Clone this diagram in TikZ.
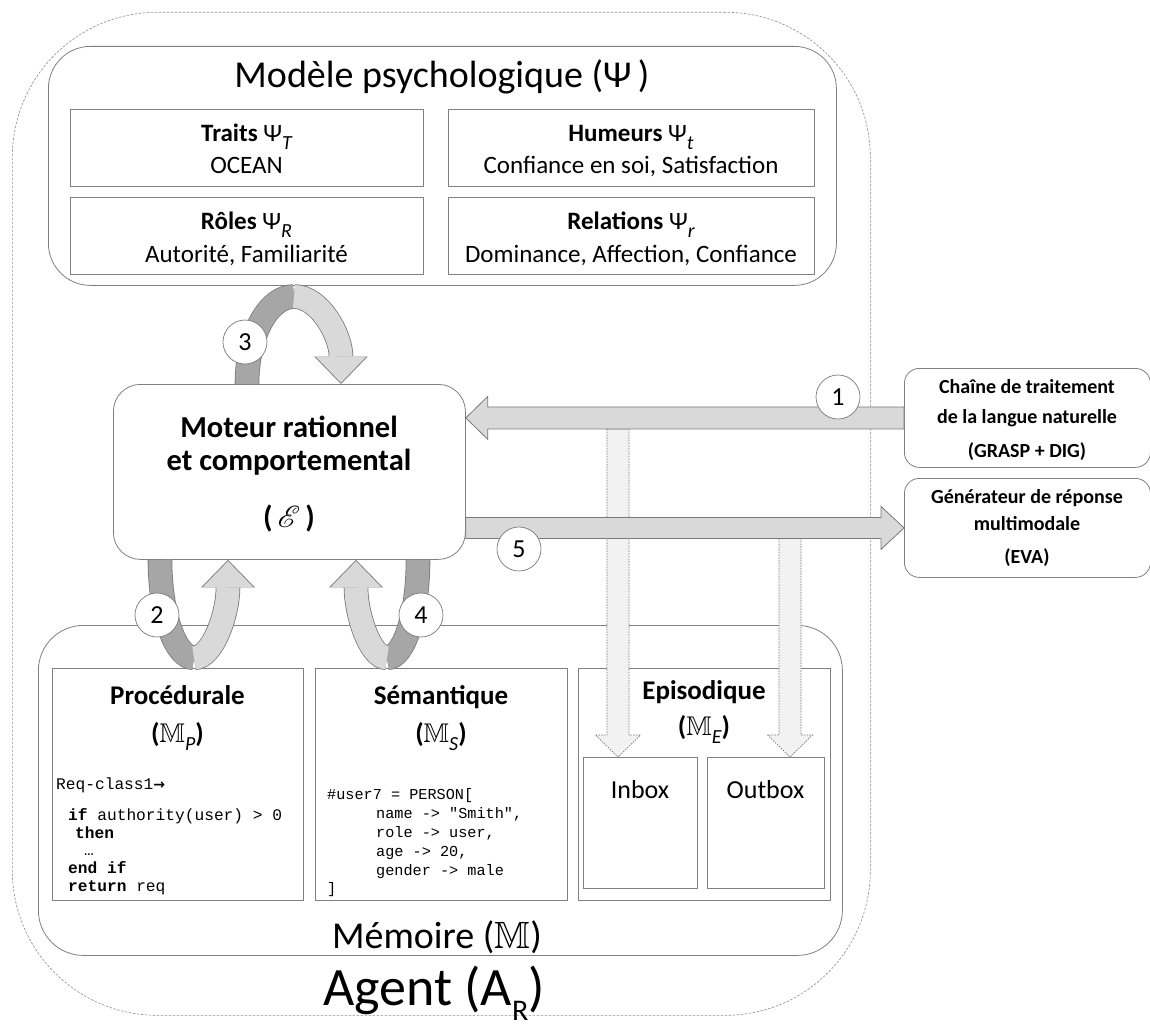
\RequirePackage{fix-cm}
\documentclass[tikz,border=0pt]{standalone}
\usepackage{fontspec}
\setmainfont{Carlito}
\setmonofont{Liberation Mono}
\newfontfamily\djv{DejaVu Sans}
\usepackage{amssymb}
\usepackage{mathrsfs}
\DeclareFontFamily{U}{msb}{}
\DeclareFontShape{U}{msb}{m}{n}{<-> msbm10}{}
\DeclareFontFamily{U}{rsfs}{\skewchar\font127 }
\DeclareFontShape{U}{rsfs}{m}{n}{<-> rsfs10}{}
\usetikzlibrary{arrows.meta,calc}
\definecolor{boxc}{HTML}{808080}
\definecolor{aline}{HTML}{7A7A7A}
\definecolor{afill}{HTML}{D9D9D9}
\definecolor{adark}{HTML}{A6A6A6}
\definecolor{dfill}{HTML}{F2F2F2}
\definecolor{dashc}{HTML}{8C8C8C}
\newcommand{\fsz}[1]{\fontsize{#1}{#1}\selectfont}
\newcommand{\isub}[1]{\raisebox{-0.32em}{\fsz{20}\mdseries\itshape #1}}
\newcommand{\psy}{{\mdseries Ψ}}
\newcommand{\bbM}{$\mathbb{M}$}
\begin{document}
\begin{tikzpicture}[x=1pt,y=-1pt,
  frame/.style={draw=boxc, line width=0.8pt},
  boxnode/.style={frame, anchor=north west, inner sep=0pt, fill=white},
  tb/.style={inner sep=0pt, anchor=base},
  tw/.style={inner sep=0pt, anchor=base west},
  num/.style={circle, draw=aline, fill=white, line width=0.7pt, minimum size=44pt, inner sep=0pt, font=\fsz{26}},
  blockarrow/.style={fill=afill, draw=aline, line width=0.8pt, line join=miter},
  dotarrow/.style={fill=dfill, draw=aline, line width=0.7pt, dash pattern=on 1.5pt off 1.2pt},
  rib out/.style={draw=aline, line width=24.6pt},
  rib dark/.style={draw=adark, line width=23pt},
  rib light/.style={draw=afill, line width=23pt},
  rib tip out/.style={-{Triangle[width=53.6pt,length=27.5pt,line width=0pt]}},
  rib tip in/.style={shorten >=1.3pt, -{Triangle[width=51pt,length=26.2pt,line width=0pt]}},
  codeP/.style={tw, font=\ttfamily\fsz{16.2}},
  codeS/.style={tw, font=\ttfamily\fsz{15.2}}
]
\useasboundingbox (0,0) rectangle (1150,1030);
\fill[white] (0,0) rectangle (1150,1030);

% Agent frame
\node[anchor=north west, inner sep=0pt, draw=dashc, line width=0.6pt, dash pattern=on 2.5pt off 1.5pt,
      rounded corners=145pt, minimum width=858pt, minimum height=1003pt] (agent) at (12,12) {};

% Psychological model
\node[boxnode, rounded corners=42pt, minimum width=788pt, minimum height=239pt] (psy) at (48,46) {};
\node[tb, font=\fsz{38}] (psyT) at (442,88) {Modèle psychologique (Ψ\,)};
\node[boxnode, minimum width=353pt, minimum height=77pt] (traits) at (70,109) {};
\node[boxnode, minimum width=366pt, minimum height=77pt] (humeurs) at (448,109) {};
\node[boxnode, minimum width=353pt, minimum height=77pt] (roles) at (70,197) {};
\node[boxnode, minimum width=366pt, minimum height=77pt] (relations) at (448,197) {};
\node[tb, font=\fsz{25}] (trA) at (246.5,142) {\textbf{Traits} \psy\isub{T}};
\node[tb, font=\fsz{25}] (trB) at (246.5,173) {OCEAN};
\node[tb, font=\fsz{25}] (huA) at (631,142) {\textbf{Humeurs} \psy\isub{t}};
\node[tb, font=\fsz{25}] (huB) at (631,173) {Confiance en soi, Satisfaction};
\node[tb, font=\fsz{25}] (roA) at (246.5,229) {\textbf{Rôles} \psy\isub{R}};
\node[tb, font=\fsz{25}] (roB) at (246.5,262) {Autorité, Familiarité};
\node[tb, font=\fsz{25}] (reA) at (631,229) {\textbf{Relations} \psy\isub{r}};
\node[tb, font=\fsz{25}] (reB) at (631,262) {Dominance, Affection, Confiance};

% Engine
\node[boxnode, rounded corners=27pt, minimum width=352pt, minimum height=175pt] (mot) at (113,384) {};
\node[tb, font=\bfseries\fsz{30.5}] (motA) at (289,437) {Moteur rationnel};
\node[tb, font=\bfseries\fsz{30.5}] (motB) at (289,470) {et comportemental};
\node[tb, font=\bfseries\fsz{30.5}] (motC) at (289,527) {(\,$\mathscr{E}$\,)};

% External boxes
\node[boxnode, rounded corners=15pt, minimum width=246pt, minimum height=99pt] (nlp) at (904,368) {};
\node[tb, font=\bfseries\fsz{20}] (nlpA) at (1027,393) {Chaîne de traitement};
\node[tb, font=\bfseries\fsz{20}] (nlpB) at (1027,423) {de la langue naturelle};
\node[tb, font=\bfseries\fsz{20}] (nlpC) at (1027,457) {(GRASP + DIG)};
\node[boxnode, rounded corners=15pt, minimum width=246pt, minimum height=99pt] (gen) at (904,478) {};
\node[tb, font=\bfseries\fsz{20}] (genA) at (1027,503) {Générateur de réponse};
\node[tb, font=\bfseries\fsz{20}] (genB) at (1027,530) {multimodale};
\node[tb, font=\bfseries\fsz{20}] (genC) at (1027,563) {(EVA)};

% Memory
\node[boxnode, rounded corners=45pt, minimum width=804pt, minimum height=330pt] (mem) at (38,625) {};
\node[boxnode, minimum width=251pt, minimum height=232pt] (proc) at (52,668) {};
\node[boxnode, minimum width=252pt, minimum height=232pt] (sem) at (315,668) {};
\node[boxnode, minimum width=252pt, minimum height=232pt] (epi) at (578,668) {};
\node[boxnode, minimum width=114pt, minimum height=131pt] (inbox) at (583,757) {};
\node[boxnode, minimum width=117pt, minimum height=131pt] (outbox) at (707,757) {};
\node[tb, font=\bfseries\fsz{27}] (procA) at (177.5,704) {Procédurale};
\node[tb, font=\bfseries\fsz{27}] (procB) at (177.5,742) {(\bbM\isub{P})};
\node[tb, font=\bfseries\fsz{27}] (semA) at (441,704) {Sémantique};
\node[tb, font=\bfseries\fsz{27}] (semB) at (441,742) {(\bbM\isub{S})};
\node[tb, font=\bfseries\fsz{27}] (epiA) at (704,699) {Episodique};
\node[tb, font=\bfseries\fsz{27}] (epiB) at (704,735) {(\bbM\isub{E})};
\node[tb, font=\fsz{26}] (inT) at (640,798) {Inbox};
\node[tb, font=\fsz{26}] (outT) at (765.5,798) {Outbox};
\node[tb, font=\fsz{38}] (memT) at (437,948) {Mémoire (\bbM)};
\node[tb, font=\fsz{54}] (agT) at (434,1005) {Agent (A\raisebox{-0.28em}{\fsz{30}R})};

% Code
\node[codeP] (pc1) at (56,789) {Req-class1{\djv\bfseries\fsz{14}→}};
\node[codeP] (pc2) at (68,820) {\textbf{if} authority(user) > 0};
\node[codeP] (pc3) at (75,838) {\textbf{then}};
\node[codeP] (pc4) at (84,855) {…};
\node[codeP] (pc5) at (68,873) {\textbf{end if}};
\node[codeP] (pc6) at (68,891) {\textbf{return} req};
\node[codeS] (sc1) at (327,799) {\#user7 = PERSON[};
\node[codeS] (sc2) at (376,818) {name -> "Smith",};
\node[codeS] (sc3) at (376,837) {role -> user,};
\node[codeS] (sc4) at (376,856) {age -> 20,};
\node[codeS] (sc5) at (376,875) {gender -> male};
\node[codeS] (sc6) at (327,893) {]};

% Dotted arrows into Inbox / Outbox
\coordinate (inTop) at ($(nlp.west)+(-286,11)$);
\coordinate (inTip) at ($(inbox.north west)+(35,0)$);
\draw[dotarrow] ($(inTop)+(-11,0)$) -- ($(inTip)+(-11,-22)$) -- ($(inTip)+(-22.5,-22)$) -- (inTip)
  -- ($(inTip)+(22.5,-22)$) -- ($(inTip)+(11,-22)$) -- ($(inTop)+(11,0)$) -- cycle;
\coordinate (outTop) at ($(gen.west)+(-114,10.5)$);
\coordinate (outTip) at ($(outbox.north west)+(83,0)$);
\draw[dotarrow] ($(outTop)+(-11,0)$) -- ($(outTip)+(-11,-22)$) -- ($(outTip)+(-22.5,-22)$) -- (outTip)
  -- ($(outTip)+(22.5,-22)$) -- ($(outTip)+(11,-22)$) -- ($(outTop)+(11,0)$) -- cycle;

% Arrow 1 (NLP -> engine)
\coordinate (a1tip) at (mot.east |- nlp.west);
\draw[blockarrow] (a1tip) -- ($(a1tip)+(22,-21.5)$) -- ($(a1tip)+(22,-11)$) -- ($(nlp.west)+(0,-11)$)
  -- ($(nlp.west)+(0,11)$) -- ($(a1tip)+(22,11)$) -- ($(a1tip)+(22,21.5)$) -- cycle;
% Arrow 5 (engine -> generator)
\coordinate (a5tail) at (mot.east |- gen.west);
\draw[blockarrow] ($(a5tail)+(0,-10.5)$) -- ($(gen.west)+(-23,-10.5)$) -- ($(gen.west)+(-23,-21.5)$) -- (gen.west)
  -- ($(gen.west)+(-23,21.5)$) -- ($(gen.west)+(-23,10.5)$) -- ($(a5tail)+(0,10.5)$) -- cycle;

% Loop 3 (psy <-> engine)
\coordinate (l3s) at ($(mot.north west)+(134,0)$);
\coordinate (l3m) at ($(l3s)+(47,-87.5)$);
% Loop 2 (procedural)
\coordinate (l2s) at ($(mot.south west)+(47,0)$);
\coordinate (l2m) at ($(l2s)+(34,98)$);
% Loop 4 (semantic)
\coordinate (l4s) at ($(mot.south west)+(305,0)$);
\coordinate (l4m) at ($(l4s)+(-31,98)$);

\draw[rib out] (l3s) arc[start angle=180,end angle=270,x radius=47,y radius=87.5];
\draw[rib out, rib tip out] (l3m) arc[start angle=270,end angle=360,x radius=47,y radius=87.5];
\draw[rib dark] (l3s) arc[start angle=180,end angle=270,x radius=47,y radius=87.5];
\draw[rib light, rib tip in] (l3m) arc[start angle=270,end angle=360,x radius=47,y radius=87.5];

\draw[rib out] (l2s) arc[start angle=180,end angle=90,x radius=34,y radius=98];
\draw[rib out, rib tip out] (l2m) arc[start angle=90,end angle=0,x radius=34,y radius=98];
\draw[rib dark] (l2s) arc[start angle=180,end angle=90,x radius=34,y radius=98];
\draw[rib light, rib tip in] (l2m) arc[start angle=90,end angle=0,x radius=34,y radius=98];

\draw[rib out] (l4s) arc[start angle=0,end angle=90,x radius=31,y radius=98];
\draw[rib out, rib tip out] (l4m) arc[start angle=90,end angle=180,x radius=31,y radius=98];
\draw[rib dark] (l4s) arc[start angle=0,end angle=90,x radius=31,y radius=98];
\draw[rib light, rib tip in] (l4m) arc[start angle=90,end angle=180,x radius=31,y radius=98];

% Numbers
\node[num] (n1) at (838,397) {1};
\node[num] (n2) at (157,615) {2};
\node[num] (n3) at (245,342) {3};
\node[num] (n4) at (421,615) {4};
\node[num] (n5) at (519,549) {5};
\end{tikzpicture}
\end{document}
